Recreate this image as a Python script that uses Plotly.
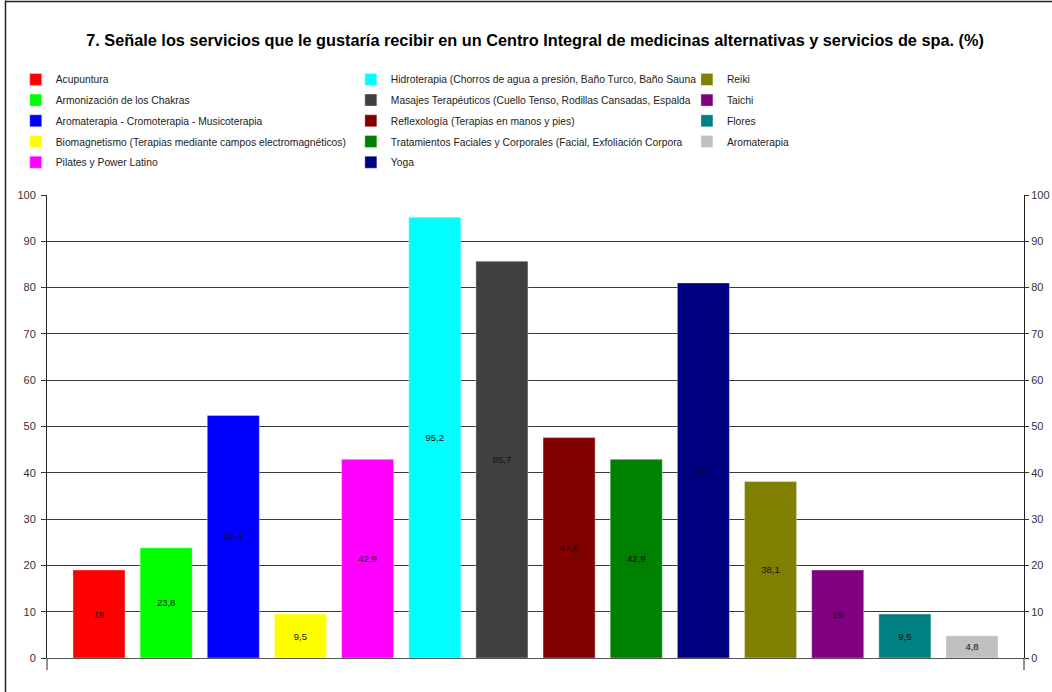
import plotly.graph_objects as go

# Survey item 7: services respondents would like (percent)
categories = [
    "Acupuntura",
    "Armonización de los Chakras",
    "Aromaterapia - Cromoterapia - Musicoterapia",
    "Biomagnetismo (Terapias mediante campos electromagnéticos)",
    "Pilates y Power Latino",
    "Hidroterapia (Chorros de agua a presión, Baño Turco, Baño Sauna",
    "Masajes Terapéuticos (Cuello Tenso, Rodillas Cansadas, Espalda",
    "Reflexología (Terapias en manos y pies)",
    "Tratamientos Faciales y Corporales (Facial, Exfoliación Corpora",
    "Yoga",
    "Reiki",
    "Taichi",
    "Flores",
    "Aromaterapia",
]
values = [19, 23.8, 52.4, 9.5, 42.9, 95.2, 85.7, 47.6, 42.9, 81, 38.1, 19, 9.5, 4.8]
colors = [
    "#FF0000", "#00FF00", "#0000FF", "#FFFF00", "#FF00FF",
    "#00FFFF", "#404040", "#800000", "#008000", "#000080",
    "#808000", "#800080", "#008080", "#C0C0C0",
]
legend_columns = ["legend"] * 5 + ["legend2"] * 5 + ["legend3"] * 4
y_ticks = list(range(0, 101, 10))

FONT = "Liberation Sans, Arial, sans-serif"

fig = go.Figure()
for name, val, col, leg in zip(categories, values, colors, legend_columns):
    fig.add_trace(go.Bar(
        x=[name], y=[val], name=name,
        marker=dict(color=col, line=dict(color="rgba(255,255,255,0.35)", width=1)),
        width=0.775,
        text=[f"{val:g}".replace(".", ",")],
        textposition="inside", insidetextanchor="middle", textangle=0,
        textfont=dict(size=9.5, color="#111111", family=FONT),
        legend=leg, legendgroup=name,
    ))

# empty trace so the right-hand value axis is drawn
fig.add_trace(go.Scatter(x=[], y=[], yaxis="y2", showlegend=False, hoverinfo="skip"))

axis_font = dict(family=FONT, size=11, color="#333333")
legend_common = dict(
    font=dict(family=FONT, size=10.3, color="#222222"),
    bgcolor="rgba(0,0,0,0)", tracegroupgap=1.7,
    yanchor="top", y=1.281, xanchor="left", orientation="v",
    itemclick=False, itemdoubleclick=False,
)

fig.update_layout(
    width=1052, height=692,
    margin=dict(l=47, r=28, t=195, b=34, autoexpand=False),
    paper_bgcolor="white", plot_bgcolor="white",
    barmode="overlay",
    uniformtext=dict(minsize=9, mode="show"),
    title=dict(
        text="<b>7. Señale los servicios que le gustaría recibir en un Centro Integral de medicinas alternativas y servicios de spa. (%)</b>",
        x=0.5086, xanchor="center", y=0.942, yanchor="middle",
        font=dict(family=FONT, size=16.3, color="#000000"),
    ),
    xaxis=dict(
        type="category", categoryorder="array", categoryarray=categories,
        range=[-0.774, 13.774], showticklabels=False, showgrid=False,
        ticks="", showline=False, zeroline=False, fixedrange=True,
        automargin=False,
    ),
    yaxis=dict(
        range=[0, 100], tickvals=y_ticks, ticks="outside", ticklen=5,
        tickcolor="#333333", showline=True, linecolor="#222222", linewidth=1,
        showgrid=True, gridcolor="#3a3a3a", gridwidth=1,
        zeroline=True, zerolinecolor="#555555", zerolinewidth=1,
        tickfont=axis_font, ticklabelstandoff=3, fixedrange=True,
        automargin=False,
    ),
    yaxis2=dict(
        range=[0, 100], tickvals=y_ticks, overlaying="y", side="right",
        ticks="outside", ticklen=4, tickcolor="#333333",
        showline=True, linecolor="#222222", linewidth=1,
        showgrid=False, zeroline=False, tickfont=axis_font,
        ticklabelstandoff=0, fixedrange=True, automargin=False,
    ),
    legend=dict(x=-0.032, **legend_common),
    legend2=dict(x=0.311, **legend_common),
    legend3=dict(x=0.655, **legend_common),
    shapes=[
        # axis lines run slightly below the zero line
        dict(type="line", xref="paper", yref="paper", x0=0, x1=0, y0=0, y1=-0.026,
             line=dict(color="#222222", width=1)),
        dict(type="line", xref="paper", yref="paper", x0=1, x1=1, y0=0, y1=-0.026,
             line=dict(color="#222222", width=1)),
        # chart frame (left and top edges)
        dict(type="line", xref="paper", yref="paper", x0=-0.0425, x1=-0.0425, y0=-0.08, y1=1.42,
             line=dict(color="#222222", width=1.5)),
        dict(type="line", xref="paper", yref="paper", x0=-0.0425, x1=1.03, y0=1.418, y1=1.418,
             line=dict(color="#222222", width=1.5)),
    ],
    showlegend=True,
)

fig.write_html("out.html")
